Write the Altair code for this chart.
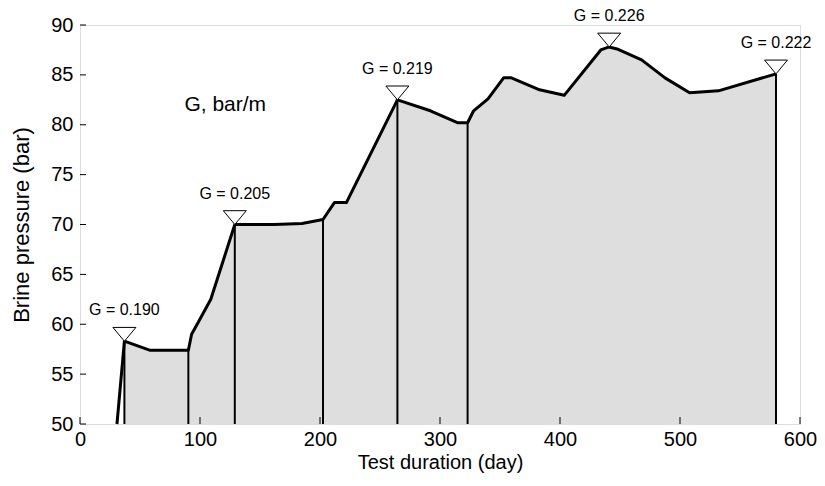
import altair as alt
import pandas as pd

# Brine pressure curve (day, bar)
days = [30.8, 37, 58, 90.3, 93, 99, 109, 129, 162, 185, 202.5, 212, 222, 264.5,
        292, 315, 323, 328, 340, 353, 359.5, 383, 403.5, 434, 441, 447.5, 468,
        487.5, 508, 532, 580]
pressure = [50, 58.3, 57.4, 57.4, 59.0, 60.3, 62.5, 70.0, 70.0, 70.1, 70.5, 72.2,
            72.2, 82.5, 81.4, 80.2, 80.2, 81.4, 82.6, 84.7, 84.7, 83.5, 82.95,
            87.5, 87.8, 87.6, 86.5, 84.7, 83.2, 83.4, 85.1]

# vertical lines
rule_days = [37, 90.3, 129, 202.5, 264.5, 323, 580]
rule_press = [58.3, 57.4, 70.0, 70.5, 82.5, 80.2, 85.1]

# gradient markers
g_days = [37, 129, 264.5, 441, 580]
g_press = [58.3, 70.0, 82.5, 87.8, 85.1]
g_labels = ["G = 0.190", "G = 0.205", "G = 0.219", "G = 0.226", "G = 0.222"]

x_ticks = [0, 100, 200, 300, 400, 500, 600]
y_ticks = [50, 55, 60, 65, 70, 75, 80, 85, 90]

curve = pd.DataFrame({"day": days, "p": pressure})
rules = pd.DataFrame({"day": rule_days, "p": rule_press})
marks = pd.DataFrame({"day": g_days, "p": g_press, "label": g_labels})
xt = pd.DataFrame({"v": x_ticks})
yt = pd.DataFrame({"v": y_ticks})
note = pd.DataFrame({"day": [87], "p": [82.0], "label": ["G, bar/m"]})

FONT = "Liberation Sans"
xs = alt.Scale(domain=[0, 600], nice=False)
ys = alt.Scale(domain=[50, 90], nice=False, zero=False)

x_axis = alt.Axis(values=x_ticks, ticks=False, domain=False, grid=False,
                  labelFlush=False, labelOverlap=False,
                  labelFontSize=20, labelPadding=5, titleFontSize=20,
                  titleFontWeight="normal", titlePadding=3, labelColor="black",
                  titleColor="black", labelFont=FONT, titleFont=FONT)
y_axis = alt.Axis(values=y_ticks, ticks=False, domain=False, grid=False,
                  labelFlush=False, labelOverlap=False,
                  labelFontSize=20, labelPadding=7, titleFontSize=22,
                  titleFontWeight="normal", titlePadding=17, labelColor="black",
                  titleColor="black", labelFont=FONT, titleFont=FONT)

area = alt.Chart(curve).transform_filter(alt.datum.day >= 37).mark_area(
    color="#dedede").encode(
    x=alt.X("day:Q", scale=xs, axis=x_axis, title="Test duration (day)"),
    y=alt.Y("p:Q", scale=ys, axis=y_axis, title="Brine pressure (bar)"),
    y2=alt.datum(50),
)

vlines = alt.Chart(rules).mark_rule(color="black", strokeWidth=2).encode(
    x="day:Q", y="p:Q", y2=alt.datum(50))

line = alt.Chart(curve).mark_line(color="black", strokeWidth=3,
                                   strokeJoin="round").encode(
    x="day:Q", y="p:Q")

tri = alt.Chart(marks).mark_point(
    shape="M -1 -1.2 L 1 -1.2 L 0 0 Z", size=529, filled=True,
    fill="white", stroke="black", strokeWidth=1, opacity=1).encode(
    x="day:Q", y="p:Q")

labels = alt.Chart(marks).mark_text(
    fontSize=16, font=FONT, baseline="alphabetic", align="center", dy=-26,
    color="black").encode(x="day:Q", y="p:Q", text="label:N")

note_t = alt.Chart(note).mark_text(
    fontSize=21, font=FONT, baseline="middle", align="left",
    color="black").encode(x="day:Q", y="p:Q", text="label:N")

xtick = alt.Chart(xt).mark_rule(color="black", strokeWidth=1).encode(
    x="v:Q", y=alt.datum(50), y2=alt.datum(50.7))
ytick = alt.Chart(yt).mark_rule(color="black", strokeWidth=1).encode(
    y="v:Q", x=alt.datum(0), x2=alt.datum(5))

chart = alt.layer(area, vlines, line, xtick, ytick, tri, labels, note_t).properties(
    width=720, height=399,
    autosize=alt.AutoSizeParams(type="none"),
    padding={"left": 72, "top": 17, "right": 17, "bottom": 54},
).configure_view(stroke="black", strokeWidth=1).configure(background="white")

chart.save("out.html", embed_options={"renderer": "svg", "actions": False})
